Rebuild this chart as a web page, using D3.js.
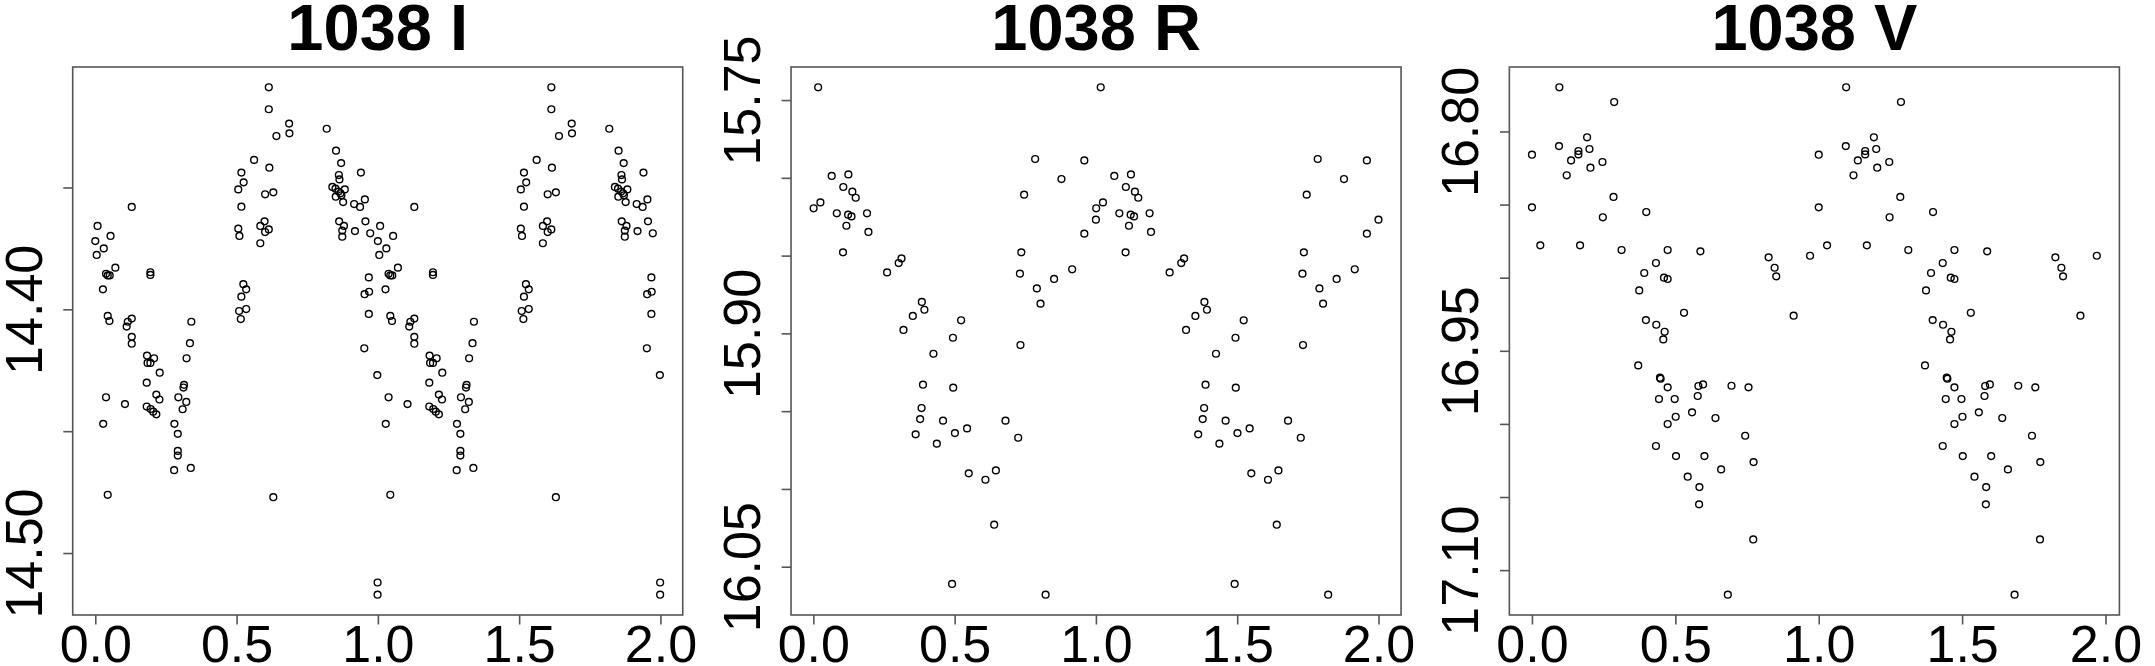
<!DOCTYPE html>
<html>
<head>
<meta charset="utf-8">
<script src="https://cdn.jsdelivr.net/npm/d3@7/dist/d3.min.js"></script>
<style>
  html, body { margin: 0; padding: 0; background: #fff; }
  svg { display: block; }
  text { font-family: "Liberation Sans", Arial, Helvetica, sans-serif; }
</style>
</head>
<body>
<svg id="chart" width="2155" height="666"></svg>
<script>
// ---------- DATA (phase, magnitude) ----------
const titles = ["1038 I", "1038 R", "1038 V"];

const obsI = [
 [0.614,14.3089],[0.614,14.3179],[0.686,14.3238],[0.687,14.3278],[0.641,14.3289],[0.819,14.3259],
 [0.562,14.3387],[0.616,14.3419],[0.517,14.3439],[0.525,14.3479],[0.506,14.3508],[0.601,14.3528],
 [0.630,14.3520],[0.517,14.3579],[0.852,14.3349],[0.870,14.3400],[0.862,14.3449],[0.864,14.3467],
 [0.940,14.3439],[0.839,14.3498],[0.850,14.3505],[0.861,14.3517],[0.868,14.3524],[0.883,14.3508],
 [0.851,14.3538],[0.871,14.3532],[0.877,14.3560],[0.916,14.3568],[0.937,14.3580],[0.954,14.3549],
 [0.129,14.3580],[0.008,14.3658],[0.054,14.3699],[0.000,14.3720],[0.030,14.3750],[0.005,14.3777],
 [0.506,14.3669],[0.510,14.3699],[0.584,14.3658],[0.599,14.3639],[0.601,14.3683],[0.614,14.3672],
 [0.584,14.3729],[0.863,14.3639],[0.880,14.3658],[0.874,14.3677],[0.874,14.3702],[0.919,14.3679],
 [0.956,14.3639],[0.973,14.3688],[0.038,14.3854],[0.044,14.3861],[0.051,14.3861],[0.071,14.3829],
 [0.195,14.3848],[0.195,14.3859],[0.027,14.3918],[0.524,14.3897],[0.534,14.3918],[0.517,14.3948],
 [0.509,14.4007],[0.534,14.3999],[0.515,14.4040],[0.968,14.3869],[0.953,14.3938],[0.969,14.3928],
 [0.968,14.4019],[0.044,14.4027],[0.050,14.4048],[0.111,14.4071],[0.115,14.4051],[0.129,14.4038],
 [0.340,14.4051],[0.129,14.4113],[0.129,14.4141],[0.335,14.4139],[0.952,14.4160],[0.183,14.4190],
 [0.208,14.4201],[0.185,14.4220],[0.195,14.4220],[0.323,14.4201],[0.228,14.4260],[0.998,14.4270],
 [0.182,14.4301],[0.314,14.4310],[0.312,14.4321],[0.038,14.4361],[0.105,14.4389],[0.216,14.4350],
 [0.227,14.4370],[0.294,14.4361],[0.322,14.4380],[0.309,14.4410],[0.182,14.4399],[0.196,14.4409],
 [0.205,14.4420],[0.216,14.4431],[0.028,14.4470],[0.280,14.4470],[0.292,14.4511],[0.292,14.4581],
 [0.292,14.4600],[0.279,14.4660],[0.338,14.4651],[0.044,14.4761],[0.630,14.4771],[0.999,14.5121],
 [0.999,14.5171]
];

const obsR = [
 [0.017,15.7418],[0.065,15.7988],[0.124,15.7978],[0.106,15.8059],[0.138,15.8089],[0.150,15.8128],
 [0.025,15.8158],[0.001,15.8196],[0.083,15.8228],[0.123,15.8237],[0.135,15.8248],[0.190,15.8228],
 [0.117,15.8308],[0.195,15.8348],[0.105,15.8479],[0.312,15.8518],[0.302,15.8548],[0.261,15.8608],
 [0.384,15.8798],[0.393,15.8848],[0.352,15.8888],[0.319,15.8978],[0.523,15.8916],[0.494,15.9028],
 [0.785,15.7879],[0.959,15.7888],[0.878,15.8008],[0.746,15.8108],[1.000,15.8269],[0.959,15.8359],
 [0.736,15.8479],[0.731,15.8616],[0.791,15.8711],[0.852,15.8650],[0.916,15.8588],[0.804,15.8809],
 [0.733,15.9075],[0.425,15.9131],[0.388,15.9330],[0.495,15.9349],[0.383,15.9480],[0.378,15.9551],
 [0.459,15.9561],[0.544,15.9611],[0.680,15.9561],[0.362,15.9649],[0.501,15.9641],[0.437,15.9709],
 [0.725,15.9671],[0.550,15.9900],[0.609,15.9941],[0.646,15.9881],[0.640,16.0230],[0.491,16.0611],
 [0.822,16.0680]
];

const obsV = [
 [0.0956,16.7698],[0.2867,16.7799],[0.1923,16.8040],[0.0944,16.8100],[0.1620,16.8134],[0.1620,16.8157],
 [0.2005,16.8120],[0.1364,16.8198],[0.2459,16.8209],[0.2040,16.8248],[0.1212,16.8300],[0.0000,16.8159],
 [0.2844,16.8448],[0.2471,16.8587],[0.0000,16.8519],[0.3986,16.8551],[0.0291,16.8779],[0.1678,16.8779],
 [0.3124,16.8811],[0.4732,16.8811],[0.5874,16.8820],[0.4324,16.8900],[0.3916,16.8968],[0.4604,16.9000],
 [0.4732,16.9009],[0.3741,16.9087],[0.8252,16.8861],[0.8462,16.8932],[0.8520,16.8991],[0.9697,16.8850],
 [0.5303,16.9240],[0.9126,16.9260],[0.3974,16.9290],[0.4336,16.9322],[0.4627,16.9370],[0.4580,16.9422],
 [0.3706,16.9600],[0.4464,16.9684],[0.4487,16.9691],[0.4732,16.9750],[0.5804,16.9741],[0.5967,16.9730],
 [0.6958,16.9739],[0.7552,16.9750],[0.4429,16.9830],[0.4977,16.9830],[0.5781,16.9809],[0.5012,16.9951],
 [0.5583,16.9921],[0.6399,16.9960],[0.4732,17.0001],[0.7436,17.0081],[0.4324,17.0151],[0.5023,17.0220],
 [0.6014,17.0220],[0.7727,17.0261],[0.6597,17.0311],[0.5431,17.0361],[0.5839,17.0432],[0.5828,17.0550],
 [0.7716,17.0790],[0.6830,17.1168]
];

const xTicks = [0, 0.5, 1, 1.5, 2];
const yTicksI = [14.35, 14.40, 14.45, 14.50];
const yLabelsI = [14.40, 14.50];
const yTicksR = [15.75, 15.80, 15.85, 15.90, 15.95, 16.00, 16.05];
const yLabelsR = [15.75, 15.90, 16.05];
const yTicksV = [16.80, 16.85, 16.90, 16.95, 17.00, 17.05, 17.10];
const yLabelsV = [16.80, 16.95, 17.10];

// ---------- LAYOUT ----------
const W = 2155, H = 666, panelW = W / 3;
const mL = 72.7, mR = 35.6, plotTop = 67, plotBottom = 615;
const svg = d3.select("#chart");
svg.append("rect").attr("width", W).attr("height", H).attr("fill", "#fff");

const panels = [
  { title: titles[0], obs: obsI, yTicks: yTicksI, yLabels: yLabelsI },
  { title: titles[1], obs: obsR, yTicks: yTicksR, yLabels: yLabelsR },
  { title: titles[2], obs: obsV, yTicks: yTicksV, yLabels: yLabelsV }
];

// R-style 4% axis padding
const pad = ext => { const r = ext[1] - ext[0]; return [ext[0] - 0.04 * r, ext[1] + 0.04 * r]; };

panels.forEach((pn, i) => {
  const ox = i * panelW;
  const pts = pn.obs.flatMap(([p, m]) => [[p, m], [p + 1, m]]);
  const x = d3.scaleLinear().domain(pad(d3.extent(pts, d => d[0]))).range([ox + mL, ox + panelW - mR]);
  const y = d3.scaleLinear().domain(pad(d3.extent(pts, d => d[1]))).range([plotTop, plotBottom]);
  const g = svg.append("g");

  // points
  g.append("g").selectAll("circle").data(pts).join("circle")
    .attr("cx", d => x(d[0])).attr("cy", d => y(d[1])).attr("r", 3.4)
    .attr("fill", "none").attr("stroke", "#000").attr("stroke-width", 1.4);

  // frame
  g.append("rect")
    .attr("x", ox + mL).attr("y", plotTop)
    .attr("width", panelW - mL - mR).attr("height", plotBottom - plotTop)
    .attr("fill", "none").attr("stroke", "#555").attr("stroke-width", 1.6);

  // x axis
  const xa = g.append("g").attr("transform", `translate(0,${plotBottom})`)
    .call(d3.axisBottom(x).tickValues(xTicks).tickSize(9.5).tickFormat(d3.format(".1f")));
  xa.select(".domain").remove();
  xa.selectAll(".tick line").attr("stroke", "#555").attr("stroke-width", 1.6);
  xa.selectAll(".tick text").attr("y", 47).attr("dy", 0)
    .attr("font-size", 52).attr("fill", "#000")
    .style("font-family", '"Liberation Sans", Arial, sans-serif');

  // y axis
  const ya = g.append("g").attr("transform", `translate(${ox + mL},0)`)
    .call(d3.axisLeft(y).tickValues(pn.yTicks).tickSize(9.4)
      .tickFormat(d => pn.yLabels.some(v => Math.abs(v - d) < 1e-9) ? d3.format(".2f")(d) : ""));
  ya.select(".domain").remove();
  ya.selectAll(".tick line").attr("stroke", "#555").attr("stroke-width", 1.6);
  ya.selectAll(".tick text")
    .attr("x", 0).attr("y", 0).attr("dy", 0)
    .attr("text-anchor", "middle")
    .attr("transform", "translate(-31,0) rotate(-90)")
    .attr("font-size", 52).attr("fill", "#000")
    .style("font-family", '"Liberation Sans", Arial, sans-serif');

  // title
  g.append("text")
    .attr("x", ox + mL + (panelW - mL - mR) / 2).attr("y", 50)
    .attr("text-anchor", "middle").attr("font-size", 65).attr("font-weight", "bold")
    .text(pn.title);
});
</script>
</body>
</html>
